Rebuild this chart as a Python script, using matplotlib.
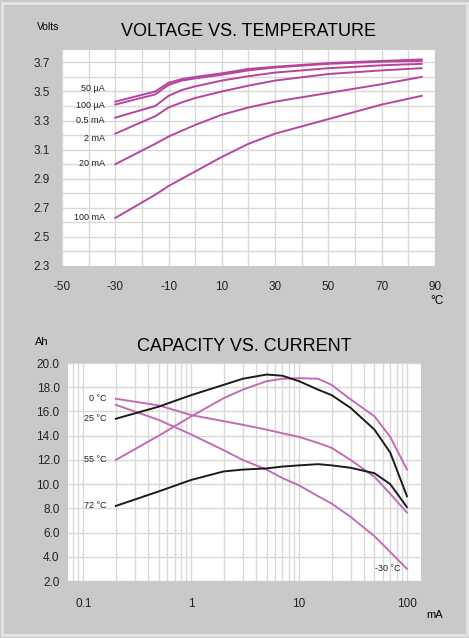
import numpy as np
import matplotlib
matplotlib.use("Agg")
import matplotlib.pyplot as plt
from matplotlib.ticker import MultipleLocator, FixedLocator, NullFormatter

plt.rcParams['font.family'] = ['Liberation Sans', 'DejaVu Sans']
plt.rcParams['axes.unicode_minus'] = False

# --- Voltage vs temperature data ---
temp = [-30, -15, -10, -5, 0, 10, 20, 30, 50, 70, 85]
v_50ua = [3.43, 3.50, 3.56, 3.585, 3.60, 3.625, 3.655, 3.67, 3.695, 3.71, 3.72]
v_100ua = [3.41, 3.48, 3.545, 3.575, 3.59, 3.615, 3.645, 3.665, 3.69, 3.705, 3.71]
v_05ma = [3.32, 3.40, 3.47, 3.51, 3.535, 3.575, 3.605, 3.63, 3.66, 3.68, 3.69]
v_2ma = [3.21, 3.33, 3.39, 3.425, 3.455, 3.50, 3.54, 3.575, 3.62, 3.645, 3.66]
v_20ma = [3.00, 3.14, 3.19, 3.23, 3.27, 3.34, 3.39, 3.43, 3.49, 3.55, 3.60]
v_100ma = [2.63, 2.79, 2.85, 2.90, 2.95, 3.05, 3.14, 3.21, 3.31, 3.41, 3.47]
v_labels = ["50 µA", "100 µA", "0.5 mA", "2 mA", "20 mA", "100 mA"]
v_label_y = [3.523, 3.405, 3.30, 3.18, 3.007, 2.636]

# --- Capacity vs current data ---
current = [0.2, 0.5, 1, 2, 3, 5, 7, 10, 15, 20, 30, 50, 70, 100]
cap_m30 = [16.55, 15.3, 14.1, 12.8, 12.0, 11.2, 10.5, 9.9, 9.0, 8.4, 7.3, 5.7, 4.4, 3.0]
cap_0 = [17.05, 16.5, 15.7, 15.2, 14.9, 14.5, 14.2, 13.9, 13.4, 13.0, 12.0, 10.6, 9.2, 7.65]
cap_25 = [15.4, 16.4, 17.35, 18.2, 18.7, 19.05, 18.95, 18.5, 17.8, 17.35, 16.3, 14.5, 12.6, 9.0]
cap_55 = [12.0, 14.0, 15.6, 17.1, 17.8, 18.5, 18.7, 18.75, 18.7, 18.2, 17.0, 15.6, 13.9, 11.2]
cap_72 = [8.2, 9.4, 10.35, 11.05, 11.2, 11.3, 11.45, 11.55, 11.65, 11.55, 11.35, 10.9, 10.0, 8.1]
c_labels = ["0 °C", "25 °C", "55 °C", "72 °C"]
c_label_y = [17.05, 15.4, 12.0, 8.2]

magenta = "#b8449e"
magenta2 = "#c46cb4"
black = "#1c1c1c"
bg = "#c9c9c7"
grid = "#d9d9d9"

fig = plt.figure(figsize=(4.69, 6.38), dpi=100, facecolor=bg)
fig.patches.append(plt.Rectangle((0.004, 0.004), 0.992, 0.992, transform=fig.transFigure,
                                 fill=False, edgecolor="#e4e4e2", linewidth=2))

# Top chart
ax1 = fig.add_axes([0.1322, 0.5831, 0.7953, 0.3385])
for v in [v_50ua, v_100ua, v_05ma, v_2ma, v_20ma, v_100ma]:
    ax1.plot(temp, v, color=magenta, lw=1.4)
ax1.set_xlim(-50, 90)
ax1.set_ylim(2.3, 3.785)
ax1.xaxis.set_major_locator(FixedLocator(list(range(-50, 91, 20))))
ax1.xaxis.set_minor_locator(MultipleLocator(10))
ax1.yaxis.set_major_locator(FixedLocator(np.arange(2.3, 3.71, 0.2)))
ax1.yaxis.set_minor_locator(MultipleLocator(0.1))
ax1.set_yticklabels(["%.1f" % t for t in np.arange(2.3, 3.71, 0.2)])
ax1.grid(True, which="both", color=grid, lw=1)
ax1.set_axisbelow(True)
ax1.tick_params(which="both", length=0, labelsize=8.5, colors="#222222")
ax1.tick_params(axis="x", pad=11)
ax1.tick_params(axis="y", pad=9)
for s in ax1.spines.values():
    s.set_visible(False)
for lab, y in zip(v_labels, v_label_y):
    ax1.text(-34, y, lab, fontsize=6.5, ha="right", va="center", color="#222222")
ax1.set_title("VOLTAGE VS. TEMPERATURE", fontsize=13, pad=10, x=0.5)
fig.text(48 / 469, 1 - 27 / 638, "Volts", fontsize=7.5, ha="center", va="center")
fig.text(437 / 469, 1 - 301 / 638, "°C", fontsize=8.5, ha="center", va="center")

# Bottom chart
ax2 = fig.add_axes([0.145, 0.0893, 0.7527, 0.3417])
ax2.set_xscale("log")
ax2.plot(current, cap_m30, color=magenta2, lw=1.4)
ax2.plot(current, cap_0, color=magenta2, lw=1.4)
ax2.plot(current, cap_55, color=magenta2, lw=1.4)
ax2.plot(current, cap_25, color=black, lw=1.4)
ax2.plot(current, cap_72, color=black, lw=1.4)
ax2.set_xlim(0.072, 135)
ax2.set_ylim(2, 20)
ax2.xaxis.set_major_locator(FixedLocator([0.1, 1, 10, 100]))
ax2.set_xticklabels(["0.1", "1", "10", "100"])
minors = [m * 10.0 ** e for e in range(-2, 3) for m in range(2, 10)]
ax2.xaxis.set_minor_locator(FixedLocator(minors))
ax2.xaxis.set_minor_formatter(NullFormatter())
ax2.set_yticks(np.arange(2, 20.1, 2))
ax2.set_yticklabels(["%.1f" % t for t in np.arange(2, 20.1, 2)])
ax2.grid(True, which="both", color=grid, lw=1)
ax2.set_axisbelow(True)
ax2.tick_params(which="both", length=0, labelsize=8.5, colors="#222222")
ax2.tick_params(axis="x", pad=12)
ax2.tick_params(axis="y", pad=6)
for s in ax2.spines.values():
    s.set_visible(False)
for lab, y in zip(c_labels, c_label_y):
    ax2.text(0.165, y, lab, fontsize=6.5, ha="right", va="center", color="#222222")
ax2.text(88, 3.05, "-30 °C", fontsize=6.5, ha="right", va="center", color="#222222")
ax2.set_title("CAPACITY VS. CURRENT", fontsize=13, pad=9)
fig.text(42 / 469, 1 - 342 / 638, "Ah", fontsize=8, ha="center", va="center")
fig.text(435 / 469, 1 - 615 / 638, "mA", fontsize=8, ha="center", va="center")

fig.savefig("out.png", dpi=100, facecolor=bg)
